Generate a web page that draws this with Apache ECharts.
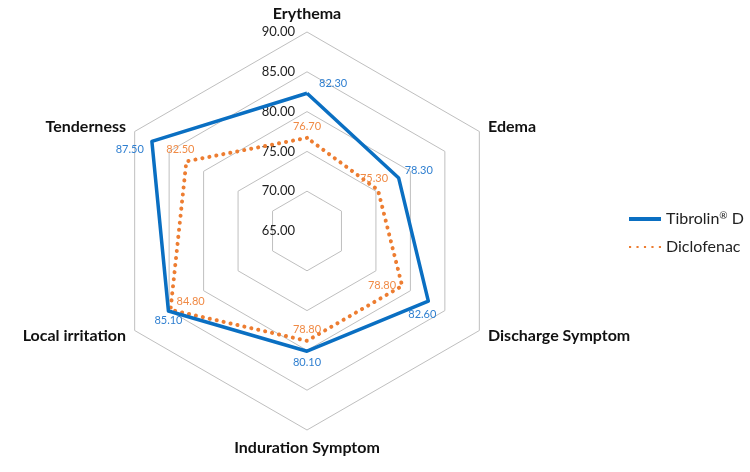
<!DOCTYPE html>
<html>
<head>
<meta charset="utf-8">
<script src="https://cdn.jsdelivr.net/npm/echarts@6/dist/echarts.min.js"></script>
<style>
  html, body { margin: 0; padding: 0; background: #fff; }
  #main { width: 750px; height: 472px; }
</style>
</head>
<body>
<div id="main"></div>
<script>
// indicators, counter-clockwise from the top (echarts order)
var indicators = ['Erythema', 'Tenderness', 'Local irritation', 'Induration Symptom', 'Discharge Symptom', 'Edema'];
var tibrolin = [82.3, 87.5, 85.1, 80.1, 82.6, 78.3];
var diclofenac = [76.7, 82.5, 84.8, 78.8, 78.8, 75.3];
var seriesNames = ['Tibrolin\u00ae D', 'Diclofenac'];

// where each value label sits (style only)
var bluePos = [[8, -10, 'right'], [-4, 8, 'left'], [0, 0, 'bottom'], [0, 2, 'bottom'], [-6, 4, 'bottom'], [2, -8, 'right']];
var orangePos = [[0, -2, 'top'], [-6, -2, 'top'], [2, -8, 'right'], [0, -2, 'top'], [-2, 0, 'left'], [-4, -2, 'top']];

var chart = echarts.init(document.getElementById('main'));

function buildItems(name, values, lineColor, labelColor, lineStyle, pos) {
  var items = [{
    name: name,
    value: values,
    symbol: 'none',
    itemStyle: { color: lineColor },
    lineStyle: lineStyle,
    label: { show: false }
  }];
  // one invisible copy per vertex, only to place each value label
  for (var i = 0; i < values.length; i++) {
    (function (k) {
      items.push({
        name: name + ' label ' + k,
        value: values,
        symbol: 'circle',
        symbolSize: 0.1,
        itemStyle: { color: lineColor },
        lineStyle: { opacity: 0 },
        label: {
          show: true,
          position: pos[k][2],
          offset: [pos[k][0], pos[k][1]],
          distance: 4,
          color: labelColor,
          fontFamily: 'Lato',
          fontSize: 11,
          formatter: function (p) {
            if (p.dimensionIndex !== k) return '';
            return Number(p.value).toFixed(2);
          }
        }
      });
    })(i);
  }
  return items;
}

var indicatorOpt = [];
for (var i = 0; i < indicators.length; i++) {
  var ind = { name: indicators[i], min: 65, max: 90 };
  if (i === 0) {
    ind.axisLabel = {
      show: true,
      color: '#222',
      fontFamily: 'Lato',
      fontSize: 13,
      margin: 12,
      formatter: function (v) { return v.toFixed(2); }
    };
  }
  indicatorOpt.push(ind);
}

var option = {
  backgroundColor: '#fff',
  animation: false,
  legend: {
    orient: 'vertical',
    left: 624,
    top: 206,
    itemGap: 12,
    itemWidth: 32,
    itemHeight: 4,
    textStyle: {
      color: '#222', fontFamily: 'Lato', fontSize: 16,
      rich: { sup: { fontFamily: 'Lato', fontSize: 10, color: '#222', verticalAlign: 'top', padding: [0, 0, 6, 0] } }
    },
    formatter: function (n) {
      return n.replace('\u00ae', '{sup|\u00ae}');
    },
    selectedMode: false,
    data: [
      { name: seriesNames[0], icon: 'rect', itemStyle: { color: '#0a6fc2' } },
      { name: seriesNames[1], icon: 'path://M0,0h2v2h-2z M7,0h2v2h-2z M14,0h2v2h-2z M21,0h2v2h-2z M28,0h2v2h-2z', itemStyle: { color: '#ed7d31' } }
    ]
  },
  radar: {
    center: [307, 231],
    radius: 199,
    startAngle: 90,
    shape: 'polygon',
    splitNumber: 5,
    indicator: indicatorOpt,
    axisName: {
      color: '#111',
      fontFamily: 'Lato',
      fontWeight: 'bold',
      fontSize: 16
    },
    nameGap: 10,
    axisLine: { show: false },
    axisTick: { show: false },
    splitArea: { show: false },
    splitLine: { lineStyle: { color: '#bfbfbf', width: 1 } }
  },
  series: [
    {
      type: 'radar',
      name: 'Tibrolin',
      z: 3,
      data: buildItems(seriesNames[0], tibrolin, '#0a6fc2', '#2f7fd0',
        { color: '#0a6fc2', width: 3.5, type: 'solid' }, bluePos)
    },
    {
      type: 'radar',
      name: 'Diclofenac',
      z: 2,
      data: buildItems(seriesNames[1], diclofenac, '#ed7d31', '#f08a45',
        { color: '#ed7d31', width: 4, type: [0.1, 7], cap: 'round' }, orangePos)
    }
  ]
};

chart.setOption(option);
</script>
</body>
</html>
